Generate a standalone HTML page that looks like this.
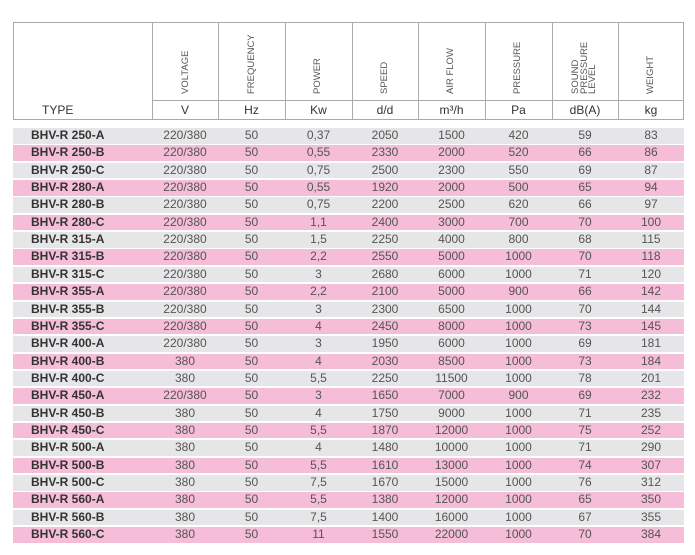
<!DOCTYPE html><html><head><style>
body{margin:0;width:695px;height:555px;background:#fff;position:relative;font-family:"Liberation Sans",sans-serif;overflow:hidden}
.hd{position:absolute;top:22px;left:13px;width:671px;height:98px;border:1px solid #aaa;box-sizing:border-box}
.v{position:absolute;top:22px;width:1px;height:98px;background:#aaa}
.h{position:absolute;top:100px;left:152px;width:532px;height:1px;background:#aaa}
.rot{position:absolute;font-size:9.5px;color:#555;transform:rotate(-90deg);transform-origin:left top;line-height:9px;white-space:nowrap}
.u{position:absolute;top:101px;height:19px;line-height:19px;font-size:12px;color:#333;text-align:center}
.r{position:absolute;left:13px;width:671px;height:15.5px;font-size:12px;color:#555;line-height:15.5px}
.r span{position:absolute;text-align:center}
.r span.t{left:18px;text-align:left;font-weight:bold;color:#333}
.g{background:#e6e6e8}.p{background:#f5bdd7}
</style></head><body>
<div class="hd"></div>
<div class="v" style="left:152px"></div><div class="v" style="left:218px"></div><div class="v" style="left:285px"></div><div class="v" style="left:352px"></div><div class="v" style="left:418px"></div><div class="v" style="left:485px"></div><div class="v" style="left:552px"></div><div class="v" style="left:618px"></div>
<div class="h"></div>
<div class="rot" style="left:181px;top:94px">VOLTAGE</div>
<div class="rot" style="left:247px;top:94px">FREQUENCY</div>
<div class="rot" style="left:313px;top:94px">POWER</div>
<div class="rot" style="left:380px;top:94px">SPEED</div>
<div class="rot" style="left:446px;top:94px">AIR FLOW</div>
<div class="rot" style="left:513px;top:94px">PRESSURE</div>
<div class="rot" style="left:572px;top:94px;line-height:8.5px">SOUND<br>PRESSURE<br>LEVEL</div>
<div class="rot" style="left:646px;top:94px">WEIGHT</div>
<div class="u" style="left:42px;width:60px;text-align:left">TYPE</div>
<div class="u" style="left:152px;width:66px">V</div>
<div class="u" style="left:218px;width:67px">Hz</div>
<div class="u" style="left:285px;width:67px">Kw</div>
<div class="u" style="left:352px;width:66px">d/d</div>
<div class="u" style="left:418px;width:67px">m³/h</div>
<div class="u" style="left:485px;width:67px">Pa</div>
<div class="u" style="left:552px;width:66px">dB(A)</div>
<div class="u" style="left:618px;width:66px">kg</div>
<div id="rows"></div>
<script>
var d=[["250-A","220/380","0,37",2050,1500,420,59,83],["250-B","220/380","0,55",2330,2000,520,66,86],["250-C","220/380","0,75",2500,2300,550,69,87],["280-A","220/380","0,55",1920,2000,500,65,94],["280-B","220/380","0,75",2200,2500,620,66,97],["280-C","220/380","1,1",2400,3000,700,70,100],["315-A","220/380","1,5",2250,4000,800,68,115],["315-B","220/380","2,2",2550,5000,1000,70,118],["315-C","220/380","3",2680,6000,1000,71,120],["355-A","220/380","2,2",2100,5000,900,66,142],["355-B","220/380","3",2300,6500,1000,70,144],["355-C","220/380","4",2450,8000,1000,73,145],["400-A","220/380","3",1950,6000,1000,69,181],["400-B","380","4",2030,8500,1000,73,184],["400-C","380","5,5",2250,11500,1000,78,201],["450-A","220/380","3",1650,7000,900,69,232],["450-B","380","4",1750,9000,1000,71,235],["450-C","380","5,5",1870,12000,1000,75,252],["500-A","380","4",1480,10000,1000,71,290],["500-B","380","5,5",1610,13000,1000,74,307],["500-C","380","7,5",1670,15000,1000,76,312],["560-A","380","5,5",1380,12000,1000,65,350],["560-B","380","7,5",1400,16000,1000,67,355],["560-C","380","11",1550,22000,1000,70,384]];
var cols=[[139,66],[205,67],[272,67],[339,66],[405,67],[472,67],[539,66],[605,66]];
var h="";d.forEach(function(r,i){var v=[r[1],"50",r[2],r[3],r[4],r[5],r[6],r[7]];
h+='<div class="r '+(i%2?'p':'g')+'" style="top:'+(128+i*17.35).toFixed(2)+'px"><span class="t">BHV-R '+r[0]+'</span>';
v.forEach(function(x,j){h+='<span style="left:'+cols[j][0]+'px;width:'+cols[j][1]+'px">'+x+'</span>'});h+='</div>'});
document.getElementById("rows").innerHTML=h;
</script>
</body></html>
